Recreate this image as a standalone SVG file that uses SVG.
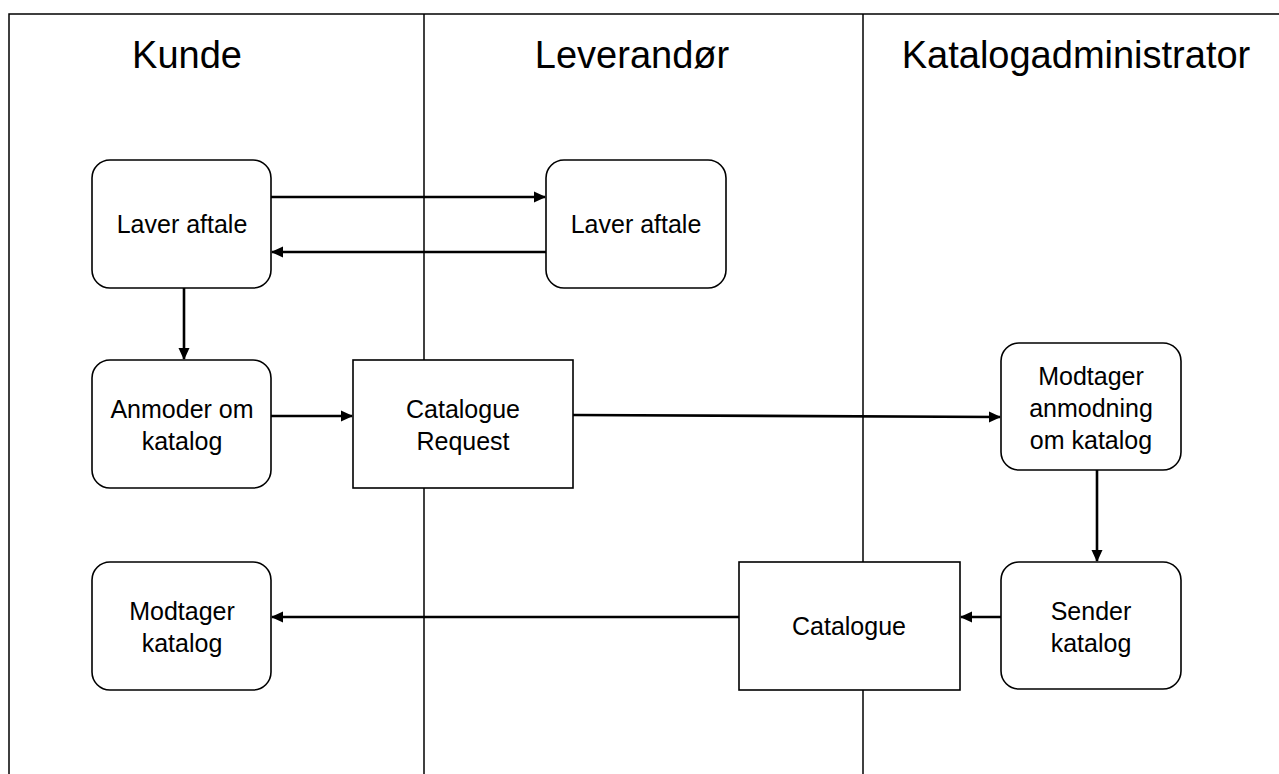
<svg xmlns="http://www.w3.org/2000/svg" width="1279" height="774" viewBox="0 0 1279 774">
<style>
.lane{stroke:#000;stroke-width:1.5;fill:none}
.node rect{fill:#fff;stroke:#000;stroke-width:1.6}
.node text,.hdr{font-family:"Liberation Sans",Arial,sans-serif;fill:#000;text-anchor:middle}
.node text{font-size:25px}
.hdr{font-size:38px}
.conn line{stroke:#000;stroke-width:2.6;marker-end:url(#ah)}
</style>
<defs>
<marker id="ah" markerWidth="12" markerHeight="12" refX="11" refY="6" orient="auto" markerUnits="userSpaceOnUse">
<path d="M0,0.5 L12,6 L0,11.5 z" fill="#000"/>
</marker>
</defs>
<rect width="1279" height="774" fill="#fff"/>
<g id="lanes">
<path class="lane" d="M9,774 V14 H1279"/>
<line class="lane" x1="424" y1="14" x2="424" y2="774"/>
<line class="lane" x1="863" y1="14" x2="863" y2="774"/>
<text class="hdr" x="187" y="68">Kunde</text>
<text class="hdr" x="632" y="68">Leverandør</text>
<text class="hdr" x="1076" y="68">Katalogadministrator</text>
</g>
<g id="connectors" class="conn">
<line x1="271" y1="197" x2="545" y2="197"/>
<line x1="546" y1="252" x2="272" y2="252"/>
<line x1="184" y1="288" x2="184" y2="359"/>
<line x1="271" y1="416" x2="352" y2="416"/>
<line x1="573" y1="415" x2="1000" y2="417"/>
<line x1="1097" y1="470" x2="1097" y2="561"/>
<line x1="1001" y1="617" x2="961" y2="617"/>
<line x1="739" y1="617" x2="272" y2="617"/>
</g>
<g id="n1" class="node"><rect x="92" y="160" width="179" height="128" rx="18"/><text x="182" y="233">Laver aftale</text></g>
<g id="n2" class="node"><rect x="546" y="160" width="180" height="128" rx="18"/><text x="636" y="233">Laver aftale</text></g>
<g id="n3" class="node"><rect x="92" y="360" width="179" height="128" rx="18"/><text x="182" y="418">Anmoder om</text><text x="182" y="450">katalog</text></g>
<g id="n4" class="node"><rect x="353" y="360" width="220" height="128"/><text x="463" y="418">Catalogue</text><text x="463" y="450">Request</text></g>
<g id="n5" class="node"><rect x="1001" y="343" width="180" height="127" rx="18"/><text x="1091" y="385">Modtager</text><text x="1091" y="417">anmodning</text><text x="1091" y="449">om katalog</text></g>
<g id="n6" class="node"><rect x="1001" y="562" width="180" height="127" rx="18"/><text x="1091" y="620">Sender</text><text x="1091" y="652">katalog</text></g>
<g id="n7" class="node"><rect x="739" y="562" width="221" height="128"/><text x="849" y="635">Catalogue</text></g>
<g id="n8" class="node"><rect x="92" y="562" width="179" height="128" rx="18"/><text x="182" y="620">Modtager</text><text x="182" y="652">katalog</text></g>
</svg>
